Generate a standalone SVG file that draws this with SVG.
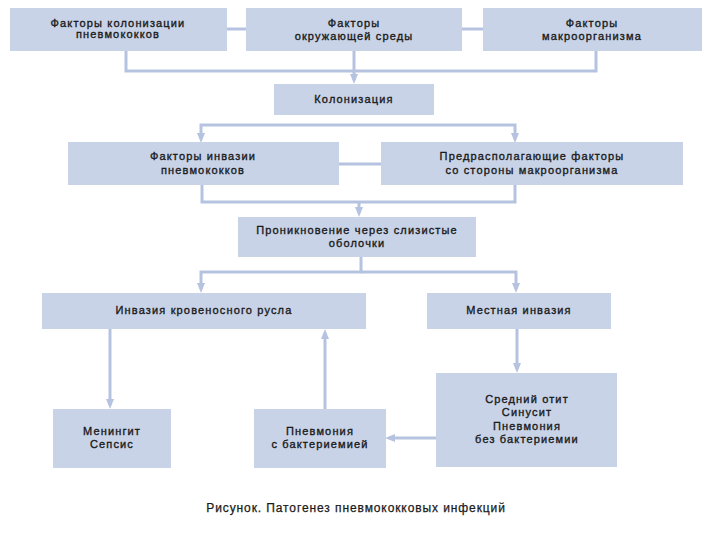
<svg xmlns="http://www.w3.org/2000/svg" width="720" height="540" viewBox="0 0 720 540">
  <style>
    .box { fill: #c8d3e8; }
    .t { font-family: "Liberation Sans", Arial, sans-serif; font-size: 11px; fill: #1a1a1a; stroke: #1a1a1a; stroke-width: 0.35px; text-anchor: middle; letter-spacing: 1.15px; }
    .cap { font-family: "Liberation Sans", Arial, sans-serif; font-size: 12px; fill: #1a1a1a; stroke: #1a1a1a; stroke-width: 0.25px; text-anchor: middle; letter-spacing: 0.9px; }
    .ln { fill: none; stroke: #b6c3e0; stroke-width: 3; }
    .ar { marker-end: url(#arrow); }
  </style>
  <defs>
    <marker id="arrow" viewBox="0 0 10 8" refX="6" refY="4" markerWidth="10" markerHeight="8" markerUnits="userSpaceOnUse" orient="auto">
      <path d="M0,0 L10,4 L0,8 z" fill="#b6c3e0"/>
    </marker>
  </defs>
  <rect width="720" height="540" fill="#ffffff"/>

  <g id="connectors">
    <path class="ln" d="M226,29 H246"/>
    <path class="ln" d="M462,29 H483"/>
    <path class="ln" d="M126,51 V71 H596 V51"/>
    <path class="ln ar" d="M354,51 V80"/>
    <path class="ln ar" d="M358,125 H201 V139"/>
    <path class="ln ar" d="M358,125 H515 V139"/>
    <path class="ln" d="M339,164 H381"/>
    <path class="ln" d="M202,185 V202 H515 V185"/>
    <path class="ln ar" d="M359,202 V213"/>
    <path class="ln ar" d="M361,257 V272 H201 V289"/>
    <path class="ln ar" d="M361,272 H516 V289"/>
    <path class="ln ar" d="M110,329 V405"/>
    <path class="ln ar" d="M325,409 V333"/>
    <path class="ln ar" d="M517,329 V369"/>
    <path class="ln ar" d="M436,438 H389"/>
  </g>

  <g id="node-colonization-factors">
    <rect class="box" x="10" y="8" width="217" height="43"/>
    <text class="t" x="118" y="27">Факторы колонизации</text>
    <text class="t" x="118" y="38">пневмококков</text>
  </g>
  <g id="node-environment-factors">
    <rect class="box" x="246" y="8" width="216" height="43"/>
    <text class="t" x="354" y="26.5">Факторы</text>
    <text class="t" x="354" y="39.5">окружающей среды</text>
  </g>
  <g id="node-macroorganism-factors">
    <rect class="box" x="483" y="8" width="219" height="43"/>
    <text class="t" x="592" y="26.5">Факторы</text>
    <text class="t" x="592" y="39.5">макроорганизма</text>
  </g>
  <g id="node-colonization">
    <rect class="box" x="274" y="84" width="160" height="31"/>
    <text class="t" x="354" y="103">Колонизация</text>
  </g>
  <g id="node-invasion-factors">
    <rect class="box" x="68" y="142" width="271" height="43"/>
    <text class="t" x="203" y="160">Факторы инвазии</text>
    <text class="t" x="203" y="174">пневмококков</text>
  </g>
  <g id="node-predisposing-factors">
    <rect class="box" x="381" y="142" width="302" height="43"/>
    <text class="t" x="532" y="160">Предрасполагающие факторы</text>
    <text class="t" x="532" y="174">со стороны макроорганизма</text>
  </g>
  <g id="node-mucosa">
    <rect class="box" x="238" y="217" width="238" height="40"/>
    <text class="t" x="357" y="233.5">Проникновение через слизистые</text>
    <text class="t" x="357" y="247">оболочки</text>
  </g>
  <g id="node-bloodstream">
    <rect class="box" x="42" y="293" width="324" height="36"/>
    <text class="t" x="204" y="314">Инвазия кровеносного русла</text>
  </g>
  <g id="node-local-invasion">
    <rect class="box" x="427" y="293" width="184" height="36"/>
    <text class="t" x="519" y="314">Местная инвазия</text>
  </g>
  <g id="node-meningitis">
    <rect class="box" x="53" y="409" width="118" height="59"/>
    <text class="t" x="112" y="435">Менингит</text>
    <text class="t" x="112" y="447.5">Сепсис</text>
  </g>
  <g id="node-pneumonia-bacteremia">
    <rect class="box" x="254" y="409" width="132" height="59"/>
    <text class="t" x="320" y="435">Пневмония</text>
    <text class="t" x="320" y="447.5">с бактериемией</text>
  </g>
  <g id="node-local-diseases">
    <rect class="box" x="436" y="373" width="181" height="94"/>
    <text class="t" x="527" y="403">Средний отит</text>
    <text class="t" x="527" y="416">Синусит</text>
    <text class="t" x="527" y="429.5">Пневмония</text>
    <text class="t" x="527" y="443">без бактериемии</text>
  </g>
  <text class="cap" x="356" y="512">Рисунок. Патогенез пневмококковых инфекций</text>
</svg>
